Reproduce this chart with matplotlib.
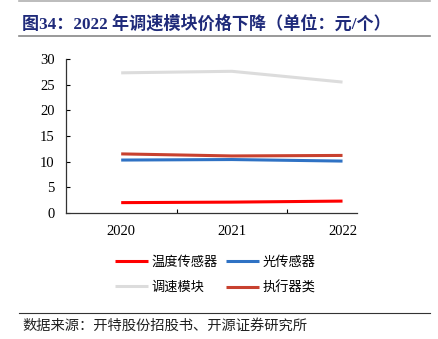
import matplotlib.pyplot as plt
from matplotlib.lines import Line2D

plt.rcParams['font.family'] = ['Liberation Serif', 'Noto Sans CJK SC']

years = ['2020', '2021', '2022']
temp_sensor = [2.0, 2.1, 2.3]
light_sensor = [10.3, 10.4, 10.1]
speed_module = [27.3, 27.6, 25.5]
actuator = [11.5, 11.1, 11.2]

series = [
    ('温度传感器', temp_sensor, '#ff0000'),
    ('光传感器', light_sensor, '#2f72c4'),
    ('调速模块', speed_module, '#dcdcdc'),
    ('执行器类', actuator, '#c8412f'),
]

fig = plt.figure(figsize=(4.39, 3.39), dpi=100)
ax = fig.add_axes([0.150, 0.372, 0.663, 0.454])

x = range(len(years))
for name, vals, color in series:
    ax.plot(x, vals, color=color, lw=2.2, label=name, solid_capstyle='butt')

ax.set_xlim(-0.5, 2.13)
ax.set_ylim(0, 30)
ax.set_yticks(range(0, 31, 5))
ax.set_xticks(list(x))
ax.set_xticklabels(years, fontsize=10.5)
ax.set_xticks([0.5, 1.5], minor=True)
ax.tick_params(axis='x', which='major', length=0, pad=9)
ax.tick_params(axis='x', which='minor', direction='in', length=3, width=0.8)
ax.tick_params(axis='y', direction='in', length=3, width=0.8, labelsize=10.5, pad=8)
for side in ['top', 'right']:
    ax.spines[side].set_visible(False)
for side in ['left', 'bottom']:
    ax.spines[side].set_color('#333333')
    ax.spines[side].set_linewidth(0.9)

# legend laid out row by row: 温度/光 then 调速/执行
order = [0, 2, 1, 3]
handles, labels = ax.get_legend_handles_labels()
fig.legend([handles[i] for i in order], [labels[i] for i in order],
           ncol=2, loc='center', bbox_to_anchor=(0.49, 0.187),
           frameon=False, fontsize=9.5, handlelength=2.5, handletextpad=0.3,
           columnspacing=0.6, labelspacing=0.95)

# title and source block
fig.add_artist(Line2D([0.044, 0.98], [0.997, 0.997], color='#b0b0b0', lw=1.2))
fig.text(0.05, 0.929, '图34：2022 年调速模块价格下降（单位：元/个）',
         fontsize=12.3, fontweight='bold', color='#1f2a7a', va='center')
fig.add_artist(Line2D([0.044, 0.98], [0.895, 0.895], color='#888888', lw=1.2))
fig.add_artist(Line2D([0.044, 0.98], [0.077, 0.077], color='#333333', lw=0.8))
fig.text(0.05, 0.038, '数据来源：开特股份招股书、开源证券研究所',
         fontsize=10.3, color='#222222', va='center')

fig.savefig('out.png', dpi=100)
